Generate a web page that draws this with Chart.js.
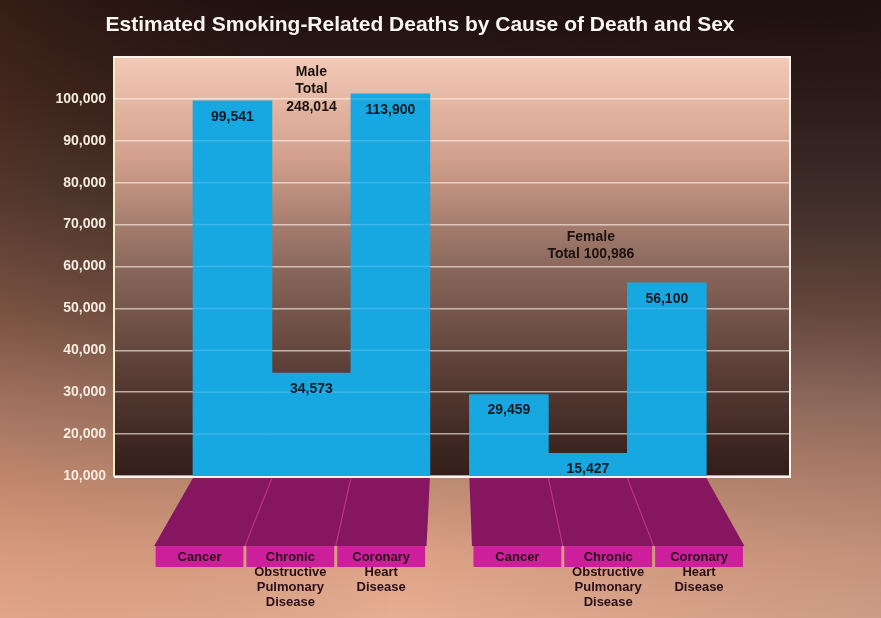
<!DOCTYPE html>
<html>
<head>
<meta charset="utf-8">
<script src="https://cdn.jsdelivr.net/npm/chart.js@4.4.1/dist/chart.umd.min.js"></script>
<style>
html,body{margin:0;padding:0;background:#1e100e;}
canvas{display:block;}
</style>
</head>
<body>
<canvas id="c" width="881" height="618"></canvas>
<script>
// ---------- data ----------
const chartTitle = 'Estimated Smoking-Related Deaths by Cause of Death and Sex';
const sexes = ['Male', 'Female'];
const causes = [
  ['Cancer'],
  ['Chronic', 'Obstructive', 'Pulmonary', 'Disease'],
  ['Coronary', 'Heart', 'Disease']
];
const maleDeaths = [99541, 34573, 113900];
const femaleDeaths = [29459, 15427, 56100];
const groupNotes = [
  ['Male', 'Total', '248,014'],
  ['Female', 'Total 100,986']
];
const yTicks = [10000, 20000, 30000, 40000, 50000, 60000, 70000, 80000, 90000, 100000];
const yAxisMin = 10000;
const yAxisMax = 110000;
const barDrawCap = 101200; // the tallest bar is drawn truncated in the original

// ---------- build points ----------
const seriesBySex = [maleDeaths, femaleDeaths];
const points = [];
const realValues = [];
seriesBySex.forEach((vals, g) => {
  vals.forEach((v, i) => {
    points.push({ x: g * (causes.length + 0.5) + i, y: Math.min(v, barDrawCap) });
    realValues.push(v);
  });
});

const FONT = "'Liberation Sans', Arial, sans-serif";

const decor = {
  id: 'decor',
  beforeDraw(chart) {
    const { ctx, chartArea: ca, width, height } = chart;
    ctx.save();
    let g = ctx.createLinearGradient(0, 0, 0, height);
    g.addColorStop(0, '#1e100e');
    g.addColorStop(0.16, '#2e1c18');
    g.addColorStop(0.32, '#42302a');
    g.addColorStop(0.5, '#6c4c40');
    g.addColorStop(0.65, '#9a7262');
    g.addColorStop(0.78, '#c08c74');
    g.addColorStop(0.9, '#dca286');
    g.addColorStop(1, '#e6ae92');
    ctx.fillStyle = g;
    ctx.fillRect(0, 0, width, height);
    let h = ctx.createLinearGradient(0, 0, width, 0);
    h.addColorStop(0, 'rgba(200,110,70,0.14)');
    h.addColorStop(0.45, 'rgba(0,0,0,0)');
    h.addColorStop(1, 'rgba(30,20,30,0.12)');
    ctx.fillStyle = h;
    ctx.fillRect(0, 0, width, height);

    let p = ctx.createLinearGradient(0, ca.top, 0, ca.bottom);
    p.addColorStop(0, '#f3cab6');
    p.addColorStop(0.24, '#d2a08c');
    p.addColorStop(0.5, '#8a685c');
    p.addColorStop(0.75, '#5a3e36');
    p.addColorStop(1, '#321d19');
    ctx.fillStyle = p;
    ctx.fillRect(ca.left, ca.top, ca.right - ca.left, ca.bottom - ca.top);
    ctx.restore();
  },
  afterDatasetsDraw(chart) {
    const { ctx, chartArea: ca, scales } = chart;
    const ys = scales.y;
    const meta = chart.getDatasetMeta(0);
    ctx.save();

    // faint gridlines through bars
    ctx.strokeStyle = 'rgba(255,255,255,0.16)';
    ctx.lineWidth = 1.5;
    meta.data.forEach(bar => {
      const { x, y, width } = bar.getProps(['x', 'y', 'width'], true);
      yTicks.forEach(t => {
        const py = ys.getPixelForValue(t);
        if (py > y + 1 && py < ca.bottom - 2) {
          ctx.beginPath();
          ctx.moveTo(x - width / 2, py);
          ctx.lineTo(x + width / 2, py);
          ctx.stroke();
        }
      });
    });

    // plot frame (top, right, bottom)
    ctx.strokeStyle = '#fbf3ee';
    ctx.lineWidth = 2;
    ctx.beginPath();
    ctx.moveTo(ca.left, ca.top);
    ctx.lineTo(ca.right, ca.top);
    ctx.lineTo(ca.right, ca.bottom + 1);
    ctx.lineTo(ca.left, ca.bottom + 1);
    ctx.stroke();

    // value labels
    ctx.fillStyle = '#0f1a22';
    ctx.font = 'bold 14px ' + FONT;
    ctx.textAlign = 'center';
    ctx.textBaseline = 'middle';
    meta.data.forEach((bar, i) => {
      const { x, y } = bar.getProps(['x', 'y'], true);
      ctx.fillText(realValues[i].toLocaleString('en-US'), x, y + 16);
    });

    // group notes
    ctx.fillStyle = '#1c1210';
    const noteAnchors = [
      { bar: 1, value: 106400, dx: 0, lh: 17.5 },
      { bar: 4, value: 67000, dx: 3, lh: 16.5 }
    ];
    groupNotes.forEach((lines, g) => {
      const a = noteAnchors[g];
      const bx = meta.data[a.bar].x + a.dx;
      const by = ys.getPixelForValue(a.value);
      lines.forEach((t, k) => ctx.fillText(t, bx, by + k * a.lh));
    });

    // magenta platforms with category labels
    const cx = (ca.left + ca.right) / 2;
    const s = 1.15;
    const proj = X => cx + s * (X - cx);
    const topY = ca.bottom + 2;
    const frontTop = topY + 68;
    const frontBot = frontTop + 21;
    ctx.font = 'bold 13px ' + FONT;
    meta.data.forEach((bar, i) => {
      const { x, width } = bar.getProps(['x', 'width'], true);
      const L = x - width / 2, R = x + width / 2;
      ctx.fillStyle = '#86165f';
      ctx.beginPath();
      ctx.moveTo(L, topY);
      ctx.lineTo(R, topY);
      ctx.lineTo(proj(R), frontTop);
      ctx.lineTo(proj(L), frontTop);
      ctx.closePath();
      ctx.fill();
    });
    ctx.strokeStyle = '#b73485';
    ctx.lineWidth = 1.2;
    meta.data.forEach((bar, i) => {
      const { x, width } = bar.getProps(['x', 'width'], true);
      const R = x + width / 2;
      if (i % causes.length !== causes.length - 1) {
        ctx.beginPath();
        ctx.moveTo(R, topY);
        ctx.lineTo(proj(R), frontTop);
        ctx.stroke();
      }
    });
    meta.data.forEach((bar, i) => {
      const { x, width } = bar.getProps(['x', 'width'], true);
      const PL = proj(x - width / 2) + 1.5, PR = proj(x + width / 2) - 1.5;
      ctx.fillStyle = '#cd1e9b';
      ctx.fillRect(PL, frontTop, PR - PL, frontBot - frontTop);
      ctx.fillStyle = '#2a0f1a';
      const lines = causes[i % causes.length];
      lines.forEach((t, k) => ctx.fillText(t, (PL + PR) / 2, frontTop + 11 + k * 15));
    });
    ctx.restore();
  }
};

new Chart(document.getElementById('c'), {
  type: 'bar',
  data: {
    datasets: [{
      data: points,
      backgroundColor: '#17a8e2',
      borderWidth: 0,
      barPercentage: 1,
      categoryPercentage: 1
    }]
  },
  options: {
    responsive: false,
    animation: false,
    devicePixelRatio: 1,
    layout: { padding: { left: 50, right: 91, top: 0, bottom: 142 } },
    plugins: {
      legend: { display: false },
      tooltip: { enabled: false },
      title: {
        display: true,
        text: chartTitle,
        color: '#fbf6f0',
        font: { family: FONT, size: 21, weight: 'bold' },
        padding: { top: 13, bottom: 18.8 }
      }
    },
    scales: {
      x: {
        type: 'linear',
        display: false,
        offset: false,
        min: -1.5,
        max: 7.06,
        afterBuildTicks: sc => { sc.ticks = points.map(p => ({ value: p.x })); }
      },
      y: {
        min: yAxisMin,
        max: yAxisMax,
        afterBuildTicks: sc => { sc.ticks = yTicks.map(v => ({ value: v })); },
        afterFit: sc => { sc.width = 64; },
        ticks: {
          color: '#f3ebdf',
          font: { family: FONT, size: 14, weight: 'bold' },
          padding: 8,
          callback: v => Number(v).toLocaleString('en-US')
        },
        grid: { color: 'rgba(255,246,238,0.62)', lineWidth: 1.5, drawTicks: false },
        border: { display: true, color: '#eef0c4', width: 2 }
      }
    }
  },
  plugins: [decor]
});
</script>
</body>
</html>
